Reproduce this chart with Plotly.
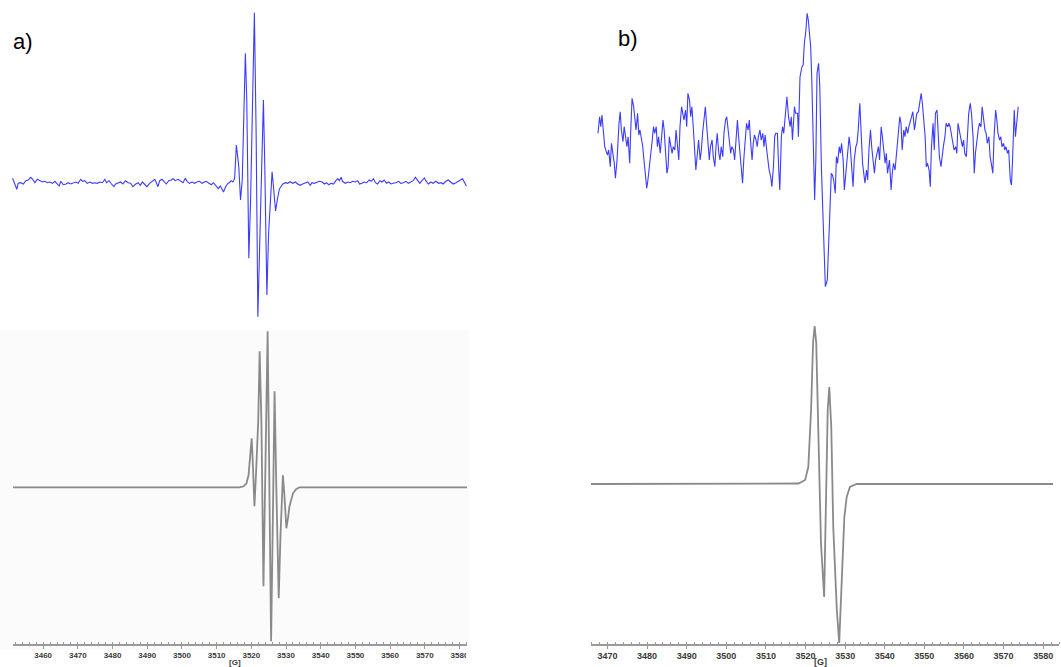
import plotly.graph_objects as go

W, H = 1061, 667

# ---------------- data: panel a) ----------------
# experimental spectrum (top, blue) : field [G], intensity [a.u.]
field_a_exp = [
    3451.2, 3451.9, 3452.4, 3452.8, 3453.5, 3454.3, 3455.0, 3455.7, 3456.4, 3457.0,
    3457.6, 3458.3, 3459.1, 3459.8, 3460.5, 3461.2, 3461.9, 3462.7, 3463.4, 3464.0,
    3464.6, 3465.1, 3465.8, 3466.6, 3467.2, 3467.9, 3468.7, 3469.4, 3470.1, 3470.8,
    3471.4, 3472.0, 3472.7, 3473.5, 3474.2, 3474.9, 3475.6, 3476.3, 3477.1, 3477.8,
    3478.3, 3479.0, 3479.7, 3480.4, 3480.9, 3481.6, 3482.3, 3483.0, 3483.7, 3484.5,
    3485.2, 3485.9, 3486.7, 3487.4, 3488.0, 3488.6, 3489.3, 3489.9, 3490.7, 3491.5,
    3492.2, 3492.7, 3493.1, 3493.6, 3494.3, 3494.8, 3495.5, 3496.2, 3496.9, 3497.4,
    3498.1, 3498.9, 3499.6, 3500.3, 3501.0, 3501.5, 3502.2, 3502.9, 3503.7, 3504.3,
    3505.1, 3505.8, 3506.5, 3507.0, 3507.8, 3508.5, 3509.1, 3509.9, 3510.5, 3511.1,
    3511.6, 3512.0, 3512.6, 3513.3, 3513.7, 3514.2, 3514.7, 3515.2,
    3515.7, 3516.4, 3516.9, 3517.4, 3518.3, 3518.7, 3519.3, 3519.8, 3520.9, 3521.4,
    3521.9, 3522.4, 3523.5, 3523.9, 3524.5, 3525.0, 3526.0, 3526.4, 3527.0, 3527.5,
    3528.1, 3529.1, 3529.9,
    3530.5, 3531.2, 3532.0, 3532.7, 3533.4, 3534.1, 3534.8, 3535.6, 3536.3, 3537.0,
    3537.5, 3538.2, 3538.9, 3539.6, 3540.4, 3541.1, 3541.7, 3542.3, 3543.0, 3543.7,
    3544.4, 3544.9, 3545.4, 3545.9, 3546.3, 3547.1, 3547.8, 3548.5, 3549.2, 3550.0,
    3550.7, 3551.2, 3551.9, 3552.6, 3553.3, 3554.0, 3554.6, 3555.2, 3555.8, 3556.4,
    3557.1, 3557.7, 3558.3, 3559.0, 3559.6, 3560.3, 3560.9, 3561.7, 3562.5, 3563.1,
    3563.8, 3564.6, 3565.3, 3566.0, 3566.7, 3567.3, 3567.9, 3568.6, 3569.2, 3569.9,
    3570.3, 3571.1, 3571.8, 3572.4, 3573.2, 3574.0, 3574.7, 3575.3, 3576.1, 3576.8,
    3577.5, 3578.2, 3579.0, 3579.7, 3580.4, 3580.9, 3581.4, 3582.0,
]
int_a_exp = [
    3.7, -3, -7.3, -1.3, -0.7, -2, 1.3, 2, 4.7, 2.7,
    -0.7, 2.7, 1.3, 0, 0.7, -0.7, 0, -1.3, 0.7, -2,
    -4, 0.7, -2.7, -2, -0.7, -2, -0.7, 0, -1.3, 2.7,
    0.7, 1.3, -1.3, 0, -1.3, -0.7, -1.3, 0, -0.7, 2.7,
    -0.7, 1.3, -2, -4.7, -2, -1.3, 0, -2, 1.3, -0.7,
    -1.3, -4.7, -2, -0.7, -3.3, 0, -2.7, -4.7, -1.3, 1.3,
    2.7, -1.3, -4.7, 1.3, 2.7, 0.7, -2, 1.3, 2, 3.3,
    1.3, 2.7, 0.7, -0.7, 3.7, 0.7, -1.3, 0, -1.3, 0,
    0.7, -1.3, 0, 0.7, -1.3, -2.7, -0.7, -4.7, -6.7, -4,
    -8, -10, -4.7, -1.3, -0.7, 1.3, 0, 3.3,
    37, 15.3, -18, 2, 128.7, 82, -76.3, -18, 169.3, 48.7,
    -134.7, -68, 82, 15.3, -113, -51, 10.3, -4.7, -29, -18,
    -7, -2, -0.7,
    -1.3, 0.3, -1.3, 0, -2, -3.3, -2, -0.7, 0, -3.3,
    -0.7, -1.3, 0, 0.7, 0, -2, -0.7, -2.7, -1.3, -2,
    1.3, 3.3, 1.3, 4.7, 0.7, -1.3, 0, -0.7, 0.7, 0,
    1.3, -2, -1.3, 0, -0.7, 2, 0.7, 3.3, -0.7, -2,
    1.3, 0, 2, -1.3, 0, -2, -1.3, -0.7, 0.7, -1.3,
    -0.7, 0.7, -1.3, 0, 1.3, 4.7, 2, -1.3, 1.3, 4,
    1.3, -2, 0, -1.3, 0.7, -1.3, -0.7, -2, 0.7, 2,
    0, -2, -0.7, 0.7, 2, 3.3, 0, -4,
]

# simulated spectrum (bottom, grey)
field_a_sim = [
    3451.0, 3516.6, 3517.8, 3518.6, 3519.2, 3519.6, 3520.1, 3520.4, 3520.9, 3521.4,
    3522.0, 3522.4, 3522.9, 3523.5, 3524.1, 3524.7, 3525.1, 3525.7, 3526.2, 3526.7,
    3527.2, 3527.9, 3528.4, 3529.1, 3529.5, 3530.1, 3530.6, 3531.0, 3532.0, 3532.9,
    3533.9, 3582.2,
]
int_a_sim = [
    0, 0, 1, 4, 12, 27, 49, 27, -19, 17,
    67, 136, 67, -99, 34, 156, 34, -154, -33, 96,
    1, -111, -49, 12, -6, -41, -30, -19, -6, -2,
    0, 0,
]

# ---------------- data: panel b) ----------------
field_b_exp = [
    3467.6, 3468.0, 3468.3, 3468.6, 3469.0, 3469.3, 3469.7, 3470.0, 3470.3, 3470.7,
    3471.0, 3471.4, 3471.7, 3472.0, 3472.4, 3472.9, 3473.2, 3473.5, 3473.9, 3474.2,
    3474.6, 3474.9, 3475.2, 3475.6, 3475.9, 3476.2, 3476.6, 3476.9, 3477.2, 3477.6,
    3477.9, 3478.2, 3478.6, 3478.9, 3479.2, 3479.6, 3479.9, 3480.2, 3480.6, 3480.9,
    3481.3, 3481.6, 3481.9, 3482.3, 3482.6, 3482.9, 3483.3, 3483.6, 3484.0, 3484.3,
    3484.6, 3485.0, 3485.3, 3485.6, 3486.0, 3486.3, 3486.6, 3487.0, 3487.3, 3487.7,
    3488.0, 3488.3, 3488.7, 3489.0, 3489.3, 3489.7, 3490.0, 3490.3, 3490.7, 3491.0,
    3491.3, 3491.7, 3492.0, 3492.3, 3492.7, 3493.0, 3493.4, 3493.7, 3494.0, 3494.4,
    3494.7, 3495.0, 3495.4, 3495.7, 3496.0, 3496.4, 3496.7, 3497.1, 3497.4, 3497.7,
    3498.1, 3498.4, 3498.7, 3499.1, 3499.4, 3499.8, 3500.1, 3500.4, 3500.8, 3501.1,
    3501.4, 3501.8, 3502.1, 3502.4, 3502.8, 3503.1, 3503.4, 3503.8, 3504.1, 3504.4,
    3504.8, 3505.1, 3505.5, 3505.8, 3506.1, 3506.5, 3506.8, 3507.1, 3507.5, 3507.8,
    3508.1, 3508.5, 3508.8, 3509.2, 3509.5, 3509.8, 3510.2, 3510.5, 3510.8, 3511.2,
    3511.5, 3511.9, 3512.2, 3512.5, 3512.9, 3513.2, 3513.5, 3513.9, 3514.2, 3514.5,
    3514.9, 3515.3, 3515.7, 3516.1, 3516.4, 3516.7, 3517.2, 3517.5, 3518.0, 3518.2,
    3518.6, 3519.1, 3519.4, 3519.7, 3520.1, 3520.4, 3520.7, 3521.3, 3521.6, 3521.9,
    3522.3, 3522.6, 3522.9, 3523.3, 3523.6, 3524.0, 3524.5, 3525.0, 3525.5, 3525.8,
    3526.1, 3526.5, 3526.8, 3527.1, 3527.5, 3527.8, 3528.1, 3528.5, 3528.8, 3529.1,
    3529.5, 3529.8, 3530.2, 3530.5, 3531.0, 3531.3, 3531.7, 3532.0, 3532.3, 3532.7,
    3533.0, 3533.3, 3533.7, 3534.0, 3534.4, 3534.7, 3535.0, 3535.4, 3535.7, 3536.0,
    3536.4, 3536.7, 3537.1, 3537.4, 3537.7, 3538.1, 3538.4, 3538.7, 3539.1, 3539.4,
    3539.7, 3540.1, 3540.4, 3540.7, 3541.2, 3541.6, 3541.9, 3542.2, 3542.6, 3543.1,
    3543.4, 3543.8, 3544.1, 3544.4, 3544.8, 3545.1, 3545.4, 3545.8, 3546.1, 3546.5,
    3546.8, 3547.1, 3547.5, 3547.8, 3548.1, 3548.5, 3548.8, 3549.2, 3549.5, 3549.8,
    3550.2, 3550.5, 3550.8, 3551.2, 3551.5, 3551.8, 3552.2, 3552.5, 3552.8, 3553.2,
    3553.5, 3553.8, 3554.2, 3554.5, 3554.8, 3555.2, 3555.5, 3555.9, 3556.2, 3556.5,
    3556.9, 3557.2, 3557.5, 3557.9, 3558.2, 3558.5, 3558.9, 3559.2, 3559.6, 3559.9,
    3560.2, 3560.6, 3560.9, 3561.2, 3561.6, 3561.9, 3562.3, 3562.6, 3562.9, 3563.3,
    3563.6, 3563.9, 3564.3, 3564.6, 3564.9, 3565.3, 3565.6, 3565.9, 3566.3, 3566.6,
    3566.9, 3567.3, 3567.6, 3568.0, 3568.3, 3568.6, 3569.0, 3569.3, 3569.6, 3570.0,
    3570.3, 3570.6, 3571.0, 3571.3, 3571.7, 3572.0, 3572.3, 3572.7, 3573.0, 3573.3,
    3573.7,
]
int_b_exp = [
    6.7, 23.3, 13.3, 25, 6.7, -6.7, -11.7, -15, -10, -26.7,
    -3.3, -13.3, -23.3, -38.3, -20, 16.7, 28.3, 10, -1.7, 13.3,
    0, -6.7, 3.3, -23.3, 13.3, 41.7, 33.3, 20, 10, 26.7,
    5, 10, 0, -6.7, -20, -33.3, -48.3, -40, -26.7, -13.3,
    0, 13.3, 6.7, 13.3, -6.7, 3.3, -13.3, 0, 20, 10,
    -13.3, -33.3, -26.7, 3.3, -6.7, -13.3, -6.7, -10, 10, -6.7,
    -20, 13.3, 33.3, 26.7, 20, 30, 13.3, 46.7, 40, 23.3,
    33.3, 10, -6.7, -30, -13.3, 0, -20, -10, 6.7, 20,
    33.3, 16.7, -3.3, -20, -6.7, 0, -16.7, -26.7, -6.7, 6.7,
    -13.3, -20, -6.7, -16.7, 6.7, 20, 23.3, 10, -3.3, -13.3,
    -6.7, -10, -20, 0, 20, 3.3, -13.3, -26.7, -43.3, -20,
    0, 16.7, 10, 20, 0, -20, -3.3, 5, 0, -6.7,
    3.3, 10, 0, 6.7, -6.7, 5, -10, -20, -30, -36.7,
    -46.7, -26.7, 3.3, 6.7, 6.7, -26.7, -50, 3.3, 13.3, 6.7,
    23.3, 43.3, 23.3, 13.3, 23.3, 0, 33.3, 26.7, 26.7, 3.3,
    63.3, 73.3, 75, 96.7, 110, 126.7, 120, 93.3, 56.7, 6.7,
    -60, -20, 66.7, 76.7, 53.3, -26.7, -93.3, -146.7, -140, -113.3,
    -76.7, -33.3, -35, -40, -53.3, -16.7, -23.3, -6.7, -13.3, -3.3,
    -20, -50, -30, -16.7, 3.3, -6.7, -30, -46.7, -20, -6.7,
    -3.3, 10, 36.7, 10, -23.3, -33.3, -43.3, -30, -40, -10,
    10, -6.7, -26.7, -33.3, -20, -13.3, -6.7, -20, 13.3, 3.3,
    -10, -23.3, -13.3, -33.3, -20, -50, -33.3, -23.3, -30, -10,
    6.7, 23.3, 16.7, -10, 10, 3.3, 13.3, 6.7, 13.3, 20,
    23.3, 28.3, 10, 20, 26.7, 28.3, 36.7, 46.7, 36.7, 23.3,
    3.3, -26.7, -23.3, -30, -46.7, -6.7, 16.7, -10, 26.7, 30,
    3.3, -16.7, -26.7, -13.3, -6.7, 3.3, 16.7, 13.3, 16.7, 13.3,
    3.3, -3.3, -10, -6.7, -13.3, 16.7, 6.7, 3.3, -6.7, 0,
    -13.3, -16.7, 3.3, 26.7, 36.7, 26.7, 3.3, -33.3, -13.3, 3.3,
    10, 16.7, 13.3, 33.3, 20, 10, 6.7, -3.3, 3.3, -16.7,
    -23.3, -33.3, 3.3, 30, 20, 6.7, 0, 3.3, -6.7, -3.3,
    -10, -6.7, -13.3, -10, -40, -45, -16.7, 30, 3.3, 20,
    33.3,
]

field_b_sim = [
    3465.8, 3513.2, 3518.2, 3519.9, 3520.7, 3521.4, 3521.9, 3522.3, 3522.7, 3523.3,
    3523.9, 3524.7, 3525.1, 3525.6, 3526.0, 3526.5, 3527.0, 3527.9, 3528.5, 3529.1,
    3529.8, 3530.4, 3531.2, 3532.9, 3582.5,
]
int_b_sim = [
    0, 0, 0.5, 4, 17, 74, 141, 158, 141, 41,
    -59, -113, -26, 74, 97, 57, -43, -126, -159, -93,
    -33, -13, -3, 0, 0,
]

tick_vals_a = [3460, 3470, 3480, 3490, 3500, 3510, 3520, 3530, 3540, 3550, 3560, 3570, 3580]
tick_vals_b = [3470, 3480, 3490, 3500, 3510, 3520, 3530, 3540, 3550, 3560, 3570, 3580]
axis_unit = "[G]"


def dx(p0, p1):
    return [p0 / W, p1 / W]


def dy(top, bottom):
    return [1 - bottom / H, 1 - top / H]


BLUE = "#3c3cff"
GREY = "#8a8a8a"

fig = go.Figure()
fig.add_trace(go.Scatter(x=field_a_exp, y=int_a_exp, mode="lines",
                         line=dict(color=BLUE, width=1.1), xaxis="x", yaxis="y"))
fig.add_trace(go.Scatter(x=field_a_sim, y=int_a_sim, mode="lines",
                         line=dict(color=GREY, width=1.8), xaxis="x2", yaxis="y2"))
fig.add_trace(go.Scatter(x=field_b_exp, y=int_b_exp, mode="lines",
                         line=dict(color=BLUE, width=1.1), xaxis="x3", yaxis="y3"))
fig.add_trace(go.Scatter(x=field_b_sim, y=int_b_sim, mode="lines",
                         line=dict(color=GREY, width=1.8), xaxis="x4", yaxis="y4"))

hidden = dict(visible=False, showgrid=False, zeroline=False)


def bottom_axis(domain, rng, tickvals, size):
    return dict(domain=domain, range=rng, showgrid=False, zeroline=False,
                showline=True, linecolor="#9a9a9a", linewidth=1.5,
                ticks="outside", ticklen=3, tickcolor="#9a9a9a", tickwidth=1,
                tickmode="array", tickvals=tickvals,
                ticktext=[str(v) for v in tickvals],
                tickfont=dict(family="Liberation Sans", size=size, color="#3a3a3a",
                              weight="bold"),
                minor=dict(dtick=2, ticks="inside", ticklen=2, tickcolor="#9a9a9a",
                           showgrid=False),
                fixedrange=True)


fig.update_layout(
    width=W, height=H, autosize=False,
    margin=dict(l=0, r=0, t=0, b=0),
    paper_bgcolor="white", plot_bgcolor="rgba(0,0,0,0)",
    showlegend=False,
    xaxis=dict(domain=dx(10, 470), range=[3450.44, 3582.8], **hidden),
    yaxis=dict(domain=dy(5, 325), range=[-143, 177], **hidden),
    xaxis2=bottom_axis(dx(13, 468), [3451.3, 3582.2], tick_vals_a, 8),
    yaxis2=dict(domain=dy(318, 644), range=[-156.7, 169.3], **hidden),
    xaxis3=dict(domain=dx(592, 1061), range=[3465.8, 3584.0], **hidden),
    yaxis3=dict(domain=dy(5, 300), range=[-160, 135], **hidden),
    xaxis4=bottom_axis(dx(592, 1061), [3465.8, 3584.0], tick_vals_b, 9),
    yaxis4=dict(domain=dy(318, 644), range=[-160, 166], **hidden),
)
fig.layout.xaxis2.anchor = "y2"
fig.layout.yaxis2.anchor = "x2"
fig.layout.xaxis3.anchor = "y3"
fig.layout.yaxis3.anchor = "x3"
fig.layout.xaxis4.anchor = "y4"
fig.layout.yaxis4.anchor = "x4"

# very light grey background of the simulated panel a)
fig.add_shape(type="rect", xref="paper", yref="paper",
              x0=0, x1=470 / W, y0=1 - 650 / H, y1=1 - 330 / H,
              fillcolor="#fbfbfb", line=dict(width=0), layer="below")
# image crop edge hides the last digit of "3580" in panel a)
fig.add_shape(type="rect", xref="paper", yref="paper",
              x0=467 / W, x1=490 / W, y0=1 - 662 / H, y1=1 - 647 / H,
              fillcolor="white", line=dict(width=0), layer="above")

fig.add_annotation(text="a)", xref="paper", yref="paper", x=11 / W, y=1 - 41 / H,
                   xanchor="left", yanchor="middle", showarrow=False,
                   font=dict(family="Liberation Sans", size=22, color="black"))
fig.add_annotation(text="b)", xref="paper", yref="paper", x=617 / W, y=1 - 38 / H,
                   xanchor="left", yanchor="middle", showarrow=False,
                   font=dict(family="Liberation Sans", size=22, color="black"))
fig.add_annotation(text=axis_unit, xref="paper", yref="paper", x=235 / W, y=1 - 662 / H,
                   xanchor="center", yanchor="middle", showarrow=False,
                   font=dict(family="Liberation Sans", size=8, color="#3a3a3a", weight="bold"))
fig.add_annotation(text=axis_unit, xref="paper", yref="paper", x=822 / W, y=1 - 662 / H,
                   xanchor="center", yanchor="middle", showarrow=False,
                   font=dict(family="Liberation Sans", size=9, color="#3a3a3a", weight="bold"))

fig.write_html("out.html",
               config={"displayModeBar": False, "staticPlot": True},
               post_script="document.body.style.margin='0';"
                           "document.body.style.overflow='hidden';")
